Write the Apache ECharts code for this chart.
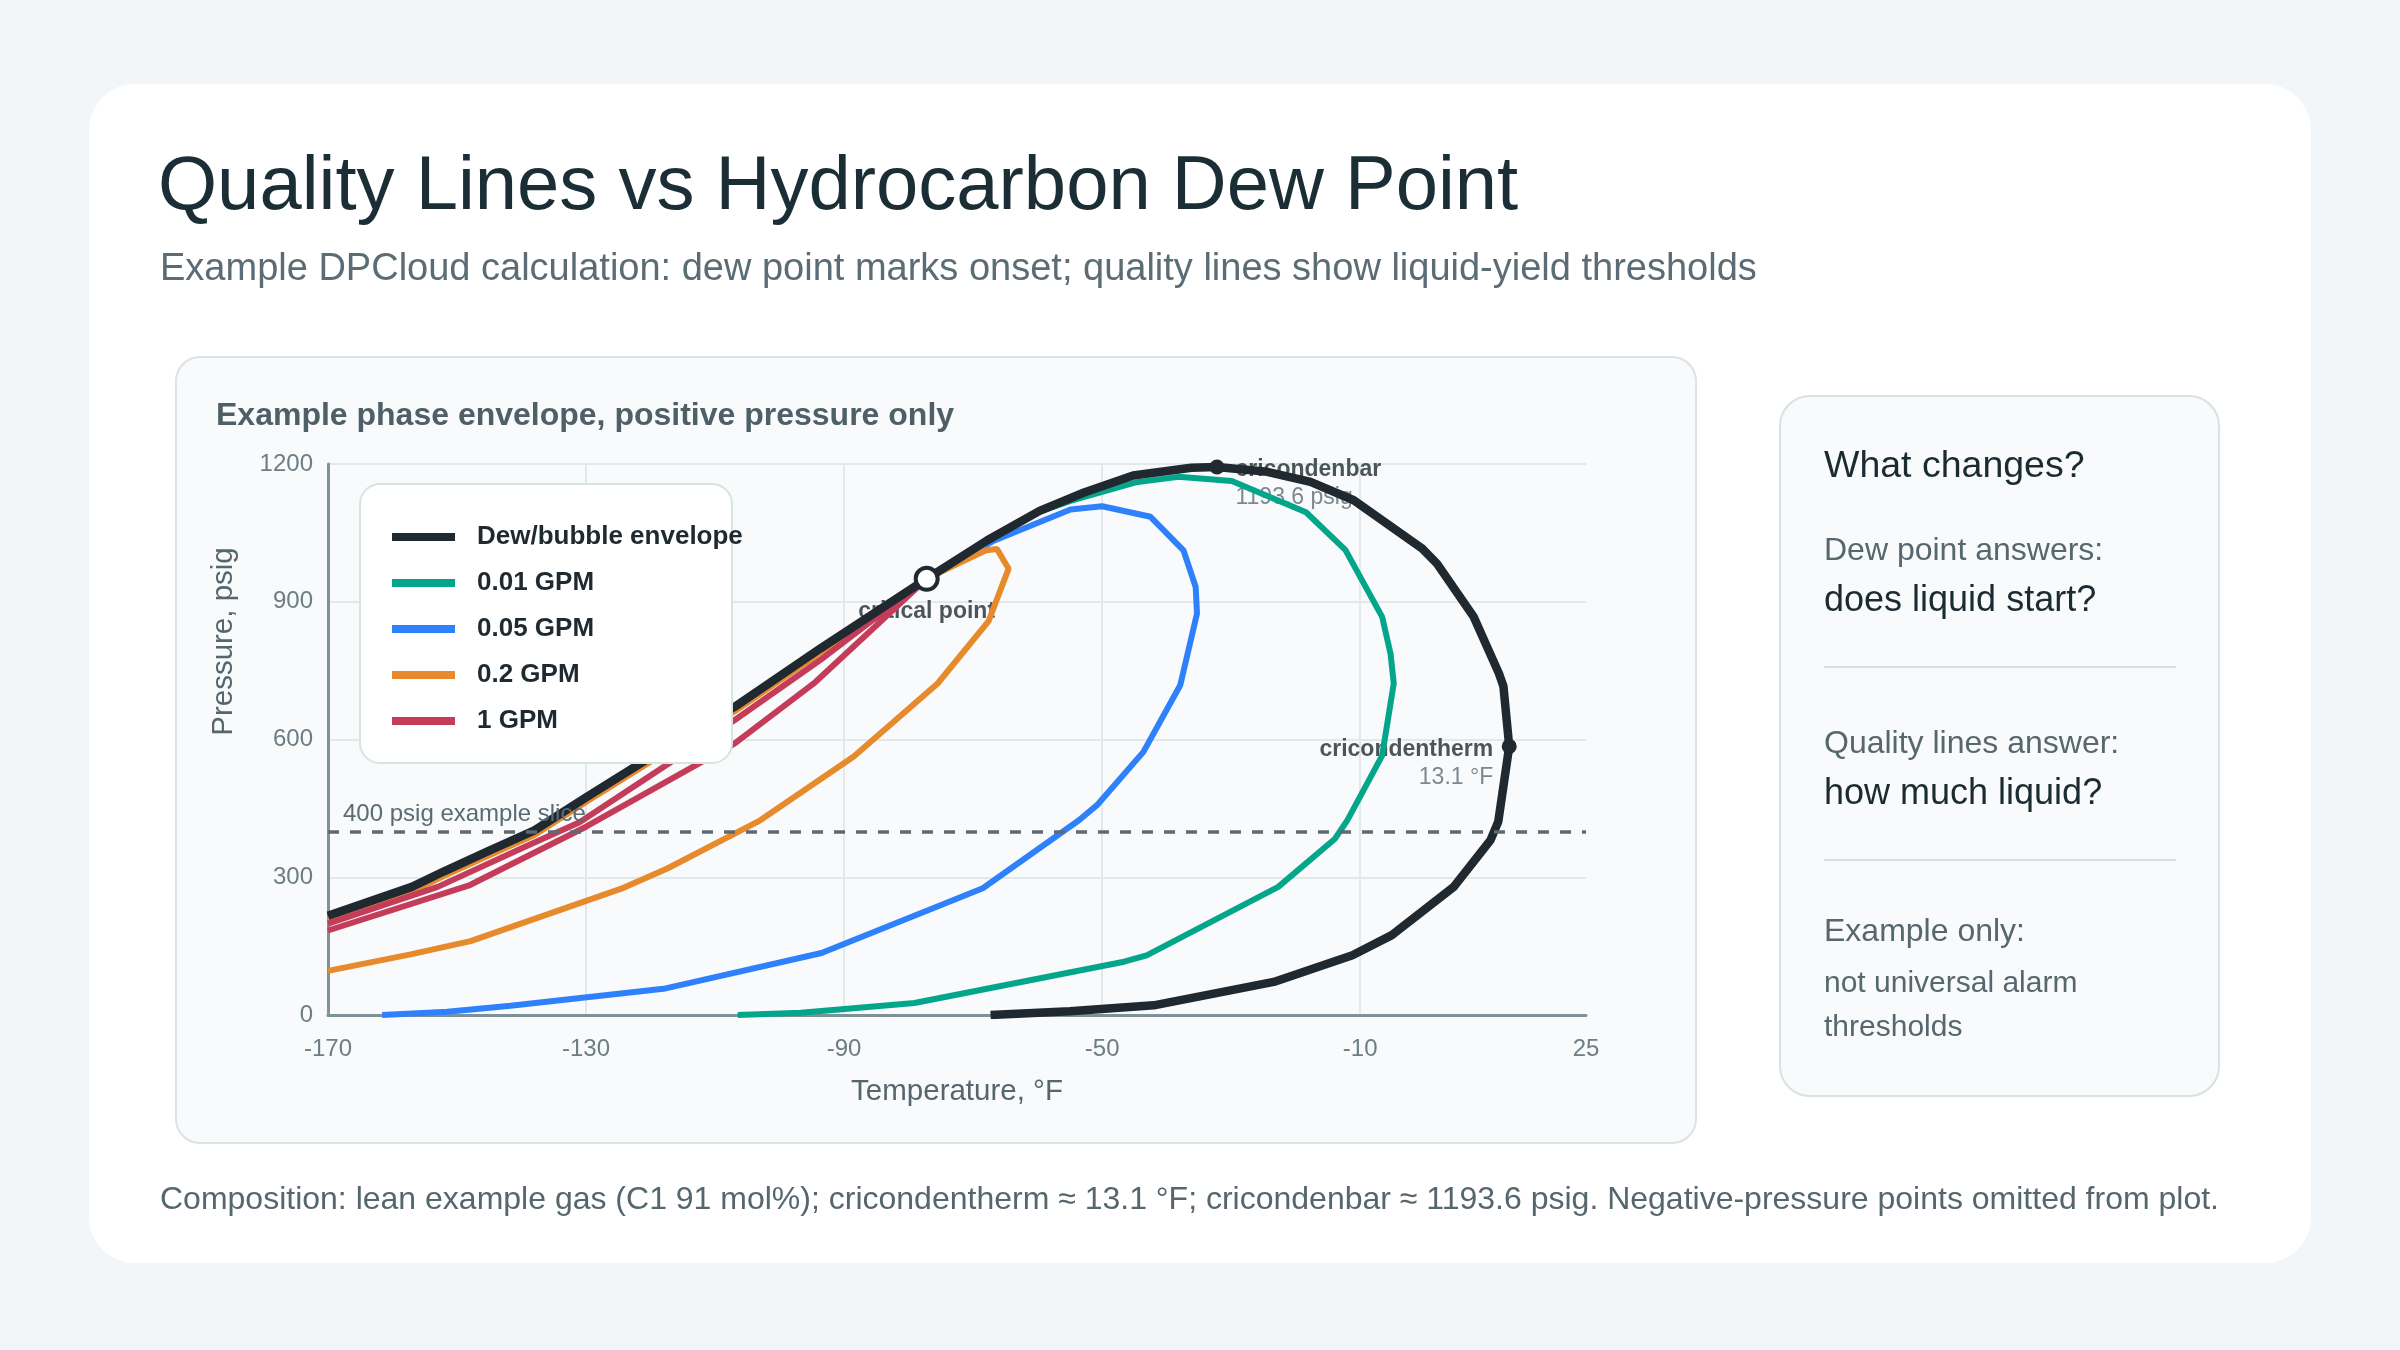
<!DOCTYPE html>
<html>
<head>
<meta charset="utf-8">
<script src="https://cdn.jsdelivr.net/npm/echarts@6/dist/echarts.min.js"></script>
<style>
  html, body { margin: 0; padding: 0; background: #f3f6f8; }
  #chart { width: 2400px; height: 1350px; }
</style>
</head>
<body>
<div id="chart"></div>
<script>
const FONT = '"Liberation Sans", Arial, Helvetica, sans-serif';

// legend order
const seriesNames = ['Dew/bubble envelope', '0.01 GPM', '0.05 GPM', '0.2 GPM', '1 GPM'];
const seriesColors = ['#1f292f', '#04a68b', '#2f80fb', '#e68a2b', '#c43c5a'];

// [temperature °F, pressure psig]
const envelope = [
  [-170, 216], [-157, 279], [-152, 313], [-145, 358], [-138, 402], [-130, 474],
  [-119.5, 566], [-107, 671], [-93.7, 798], [-77.2, 950],
  [-67.8, 1034], [-59.7, 1098], [-52.8, 1138], [-45.2, 1175], [-36.2, 1192],
  [-32.2, 1193.6], [-24.4, 1183], [-17.7, 1161], [-11, 1121], [-0.4, 1016],
  [1.9, 983], [7.6, 867], [11.5, 744], [12.2, 716], [13.1, 585], [11.4, 421],
  [10.2, 381], [4.5, 279], [-5.1, 174], [-11.2, 130], [-23.4, 72], [-42, 21],
  [-55, 8], [-67.3, 0]
];
const gpm001 = [
  [-170, 214], [-157, 277], [-152, 311], [-145, 356], [-138, 400], [-130, 472],
  [-119.5, 564], [-107, 669], [-93.7, 796], [-77.2, 950],
  [-67.8, 1032], [-59.7, 1096], [-54.8, 1120], [-44.8, 1160], [-38.2, 1172],
  [-29.9, 1163], [-18.4, 1095], [-12.3, 1013], [-6.6, 867], [-5.3, 787],
  [-4.8, 722], [-6.6, 565], [-12, 424], [-13.9, 384], [-22.7, 279],
  [-43.1, 130], [-46.6, 116], [-79.1, 26], [-96.7, 5], [-106.5, 0]
];
const gpm005 = [
  [-170, 211], [-157, 274], [-152, 308], [-145, 353], [-138, 397], [-130, 469],
  [-119.5, 561], [-107, 666], [-93.7, 794], [-77.2, 950],
  [-66.8, 1033], [-54.9, 1101], [-50, 1108], [-42.5, 1085], [-37.4, 1012],
  [-35.5, 932], [-35.3, 874], [-37.9, 718], [-43.6, 573], [-50.8, 457],
  [-53.6, 424], [-68.5, 276], [-93.5, 135], [-118, 57], [-141.7, 20],
  [-151.5, 7], [-161.6, 0]
];
const gpm02 = [
  [-170, 206], [-157, 269], [-152, 303], [-145, 348], [-138, 392], [-130, 464],
  [-119.5, 556], [-107, 661], [-93.7, 789], [-77.2, 950],
  [-72.5, 982], [-68, 1012], [-66.3, 1015], [-64.5, 972], [-67.6, 858],
  [-75.5, 722], [-88.5, 563], [-103, 424], [-117.4, 319], [-124.2, 277],
  [-147.9, 161], [-157.2, 132], [-170, 96]
];
const gpm1 = [
  [-170, 199], [-153, 279], [-138.6, 372], [-131, 420], [-107, 642], [-93.7, 773],
  [-77.2, 950],
  [-94.7, 722], [-107, 591], [-130, 410], [-148, 283], [-170, 184]
];

const criticalPoint = [-77.2, 950];
const cricondenbar = [-32.2, 1193.6];
const cricondentherm = [13.1, 585];
const slicePressure = 400;

const chart = echarts.init(document.getElementById('chart'));

const darkText = '#1f2a30';
const grayText = '#56676e';

function txt(x, y, text, size, color, extra) {
  return {
    type: 'text', x: x, y: y, z: 1, silent: true,
    style: Object.assign({
      text: text, fontSize: size, fontFamily: FONT, fill: color,
      align: 'left', verticalAlign: 'middle'
    }, extra || {})
  };
}

const lines = [gpm001, gpm005, gpm02, gpm1];

chart.setOption({
  animation: false,
  backgroundColor: '#f3f6f8',
  textStyle: { fontFamily: FONT },
  grid: { left: 328, right: 814, top: 464, bottom: 335, outerBoundsMode: 'none' },
  graphic: [
    { type: 'rect', z: -10, silent: true, shape: { x: 89, y: 84, width: 2222, height: 1179, r: 46 }, style: { fill: '#ffffff' } },
    { type: 'rect', z: -9, silent: true, shape: { x: 176, y: 357, width: 1520, height: 786, r: 24 }, style: { fill: '#f8fafc', stroke: '#dbe3e4', lineWidth: 2 } },
    { type: 'rect', z: -9, silent: true, shape: { x: 1780, y: 396, width: 439, height: 700, r: 30 }, style: { fill: '#f8fafc', stroke: '#d8e2e2', lineWidth: 2 } },
    { type: 'rect', z: 19, silent: true, shape: { x: 360, y: 484, width: 372, height: 279, r: 20 }, style: { fill: '#ffffff', stroke: '#d9e3e0', lineWidth: 2 } },
    { type: 'line', z: 1, silent: true, shape: { x1: 1824, y1: 667, x2: 2176, y2: 667 }, style: { stroke: '#d7e0e1', lineWidth: 2 } },
    { type: 'line', z: 1, silent: true, shape: { x1: 1824, y1: 860, x2: 2176, y2: 860 }, style: { stroke: '#d7e0e1', lineWidth: 2 } },
    txt(158, 188, 'Quality Lines vs Hydrocarbon Dew Point', 76, '#1b2d35'),
    txt(160, 270, 'Example DPCloud calculation: dew point marks onset; quality lines show liquid-yield thresholds', 38, '#5b6c74'),
    txt(216, 416, 'Example phase envelope, positive pressure only', 32, '#4e5f66', { fontWeight: 'bold' }),
    txt(1824, 467, 'What changes?', 37.5, '#1b2b32'),
    txt(1824, 551, 'Dew point answers:', 32, grayText),
    txt(1824, 601, 'does liquid start?', 36, '#1b2b32'),
    txt(1824, 744, 'Quality lines answer:', 32, grayText),
    txt(1824, 794, 'how much liquid?', 36, '#1b2b32'),
    txt(1824, 932, 'Example only:', 32, grayText),
    txt(1824, 984, 'not universal alarm', 30, grayText),
    txt(1824, 1028, 'thresholds', 30, grayText),
    txt(160, 1200, 'Composition: lean example gas (C1 91 mol%); cricondentherm \u2248 13.1 \u00b0F; cricondenbar \u2248 1193.6 psig. Negative-pressure points omitted from plot.', 32, '#55666d')
  ],
  legend: {
    data: seriesNames.map(n => ({ name: n, icon: 'rect' })),
    orient: 'vertical',
    left: 392,
    top: 524,
    padding: 0,
    itemWidth: 63,
    itemHeight: 8,
    itemGap: 20,
    selectedMode: false,
    z: 20,
    textStyle: { fontSize: 26, fontWeight: 'bold', color: darkText, lineHeight: 26, padding: [0, 0, 0, 17] }
  },
  xAxis: {
    type: 'value', min: -170, max: 25, interval: 40,
    name: 'Temperature, \u00b0F', nameLocation: 'middle', nameGap: 62,
    nameTextStyle: { fontSize: 29.5, color: '#55666d' },
    axisLine: { show: true, onZero: false, lineStyle: { color: '#7f9297', width: 3 } },
    axisTick: { show: false },
    axisLabel: { fontSize: 24, color: '#6c7d84', margin: 22 },
    splitLine: { show: true, showMaxLine: false, lineStyle: { color: '#e2e9ea', width: 2 } }
  },
  yAxis: {
    type: 'value', min: 0, max: 1200, interval: 300,
    name: 'Pressure, psig', nameLocation: 'middle', nameGap: 89, nameRotate: 90,
    nameTextStyle: { fontSize: 29.5, color: '#55666d', padding: [0, 0, 0, 196] },
    axisLine: { show: true, onZero: false, lineStyle: { color: '#7f9297', width: 3 } },
    axisTick: { show: false },
    axisLabel: { fontSize: 24, color: '#6c7d84', margin: 15, formatter: v => String(v) },
    splitLine: { show: true, lineStyle: { color: '#e2e9ea', width: 2 } }
  },
  series: [
    {
      type: 'scatter', name: 'annotations', z: 1, silent: true,
      itemStyle: { color: 'rgba(0,0,0,0)' },
      emphasis: { disabled: true },
      data: [
        {
          value: criticalPoint, symbolSize: 22,
          label: { show: true, position: 'bottom', distance: 10, formatter: 'critical point', fontSize: 23, fontWeight: 'bold', color: darkText }
        },
        {
          value: cricondenbar, symbolSize: 15,
          label: {
            show: true, position: 'right', distance: 11, offset: [0, 17],
            formatter: '{a|cricondenbar}\n{b|' + cricondenbar[1] + ' psig}',
            rich: {
              a: { fontSize: 23, fontWeight: 'bold', color: darkText, lineHeight: 28, align: 'left' },
              b: { fontSize: 23, color: '#5b6c74', lineHeight: 28, align: 'left' }
            }
          }
        },
        {
          value: cricondentherm, symbolSize: 15,
          label: {
            show: true, position: 'left', distance: 8.5, offset: [0, 17],
            formatter: '{a|cricondentherm}\n{b|' + cricondentherm[0] + ' \u00b0F}',
            rich: {
              a: { fontSize: 23, fontWeight: 'bold', color: darkText, lineHeight: 28, align: 'right' },
              b: { fontSize: 23, color: '#5b6c74', lineHeight: 28, align: 'right' }
            }
          }
        }
      ]
    },
    {
      type: 'line', name: 'slice', z: 1, silent: true, data: [],
      markLine: {
        silent: true, symbol: 'none', animation: false,
        lineStyle: { type: [11, 11], color: '#5d6a72', width: 3.5 },
        label: { show: true, position: 'insideStartTop', distance: [15, 5], formatter: slicePressure + ' psig example slice', fontSize: 24, color: '#5a6b73' },
        data: [{ yAxis: slicePressure }]
      }
    },
    ...lines.map((d, i) => ({
      type: 'line', name: seriesNames[i + 1], z: 2, data: d,
      symbol: 'none', showSymbol: false, silent: true,
      emphasis: { disabled: true },
      itemStyle: { color: seriesColors[i + 1] },
      lineStyle: { color: seriesColors[i + 1], width: 6 }
    })),
    {
      type: 'line', name: seriesNames[0], z: 3, data: envelope,
      symbol: 'none', showSymbol: false, silent: true,
      emphasis: { disabled: true },
      itemStyle: { color: seriesColors[0] },
      lineStyle: { color: seriesColors[0], width: 8.5 }
    },
    {
      type: 'scatter', name: 'markers', z: 5, silent: true,
      emphasis: { disabled: true },
      data: [
        { value: criticalPoint, symbolSize: 22, itemStyle: { color: '#ffffff', borderColor: seriesColors[0], borderWidth: 4, opacity: 1 } },
        { value: cricondenbar, symbolSize: 15, itemStyle: { color: seriesColors[0], opacity: 1 } },
        { value: cricondentherm, symbolSize: 15, itemStyle: { color: seriesColors[0], opacity: 1 } }
      ]
    }
  ]
});
</script>
</body>
</html>
